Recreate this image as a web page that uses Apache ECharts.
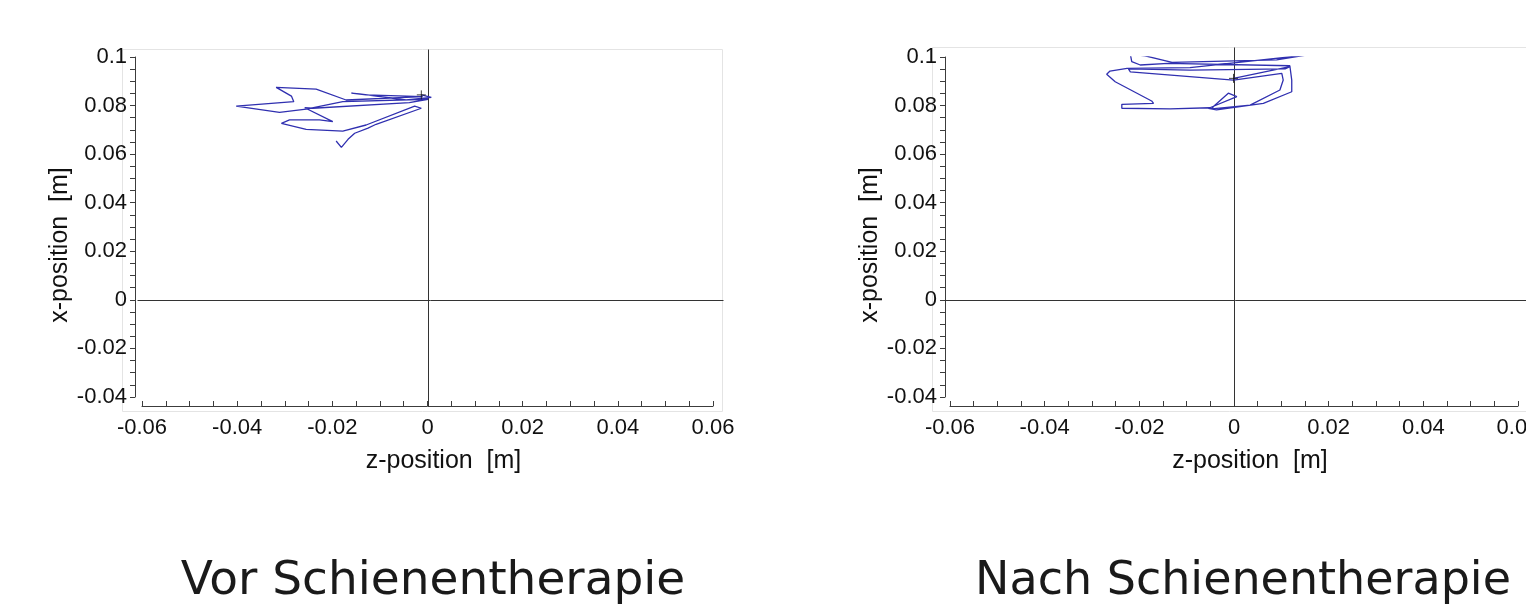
<!DOCTYPE html>
<html>
<head>
<meta charset="utf-8">
<script src="https://cdn.jsdelivr.net/npm/echarts@6/dist/echarts.min.js"></script>
<style>
html,body{margin:0;padding:0;background:#fff;}
#c{width:1526px;height:604px;}
</style>
</head>
<body>
<div id="c"></div>
<script>
// ---- data ----
var titles = ['Vor Schienentherapie', 'Nach Schienentherapie'];
var xAxisName = 'z-position  [m]';
var yAxisName = 'x-position  [m]';
var zTicks = [-0.06, -0.04, -0.02, 0, 0.02, 0.04, 0.06];
var xTicks = [-0.04, -0.02, 0, 0.02, 0.04, 0.06, 0.08, 0.1];

// Vor: z-position (horizontal) and x-position (vertical)
var vorZ = [-0.0013, 0.0008, -0.0045, -0.0143, -0.0160, -0.0129, -0.0010, -0.0171, -0.0234, -0.0318,
            -0.0286, -0.0281, -0.0402, -0.0398, -0.0311, -0.0255, -0.0178, 0.0001, -0.0038, -0.0241,
            -0.0258, -0.0199, -0.0227, -0.0290, -0.0307, -0.0255, -0.0178, -0.0129, -0.0027, -0.0013,
            -0.0108, -0.0125, -0.0153, -0.0167, -0.0181, -0.0192];
var vorX = [0.0844, 0.0834, 0.0823, 0.0848, 0.0851, 0.0844, 0.0837, 0.0823, 0.0868, 0.0875,
            0.0839, 0.0816, 0.0798, 0.0790, 0.0772, 0.0785, 0.0816, 0.0826, 0.0812, 0.0789,
            0.0791, 0.0734, 0.0741, 0.0741, 0.0727, 0.0702, 0.0695, 0.0720, 0.0798, 0.0789,
            0.0723, 0.0707, 0.0686, 0.0661, 0.0628, 0.0654];
// Nach
var nachZ = [-0.0001, 0.0118, 0.0108, -0.0093, -0.0223, -0.0219, -0.0001, 0.0101, 0.0104, 0.0097,
             0.0034, -0.0047, -0.0044, -0.0012, 0.0006, -0.0051, -0.0135, -0.0237, -0.0237, -0.0170,
             -0.0174, -0.0251, -0.0269, -0.0262, -0.0226, -0.0093, 0.0153, 0.0090, -0.0131, -0.0188,
             -0.0219, -0.0216, -0.0198, -0.0139, 0.0118, 0.0122, 0.0122, 0.0062, -0.0037, -0.0054];
var nachX = [0.0912, 0.0960, 0.0951, 0.0946, 0.0951, 0.0939, 0.0905, 0.0933, 0.0905, 0.0864,
             0.0802, 0.0786, 0.0795, 0.0851, 0.0837, 0.0791, 0.0786, 0.0789, 0.0805, 0.0809,
             0.0819, 0.0898, 0.0929, 0.0942, 0.0953, 0.0956, 0.1008, 0.0988, 0.0978, 0.1005,
             0.1011, 0.0981, 0.0967, 0.0974, 0.0964, 0.0905, 0.0857, 0.0809, 0.0782, 0.0789];
// cursor markers
var vorCursor = [-0.0013, 0.0844];
var nachCursor = [-0.0001, 0.0912];
// zero reference lines (extent in data units)
var vorZeroH = [[-0.0611, 0], [0.0620, 0]];
var vorZeroV = [[0, -0.0436], [0, 0.1033]];
var nachZeroH = [[-0.0612, 0], [0.0700, 0]];
var nachZeroV = [[0, -0.0436], [0, 0.1040]];

function zip(a, b) { return a.map(function (v, i) { return [v, b[i]]; }); }

var axisColor = '#3c3c3c';
var traceColor = '#3030b0';
var tickFont = 'Liberation Sans';
var fmt = function (v) { return String(+v.toFixed(2)); };

function makeX(idx) {
  return {
    type: 'value', gridIndex: idx, min: zTicks[0], max: zTicks[zTicks.length - 1], interval: 0.02,
    offset: 9,
    name: xAxisName, nameLocation: 'middle', nameGap: 43,
    nameTextStyle: { fontFamily: 'Liberation Sans', fontSize: 25, color: '#111', padding: [0, 0, 0, 32] },
    axisLine: { show: true, onZero: false, lineStyle: { color: axisColor, width: 1 } },
    axisTick: { show: true, inside: true, length: 5, lineStyle: { color: axisColor } },
    minorTick: { show: true, splitNumber: 4, length: 5, lineStyle: { color: axisColor } },
    axisLabel: { fontFamily: tickFont, fontSize: 22, color: '#111', margin: 11, formatter: fmt, hideOverlap: false },
    splitLine: { show: false }
  };
}
function makeY(idx, off) {
  return {
    type: 'value', gridIndex: idx, min: xTicks[0], max: xTicks[xTicks.length - 1], interval: 0.02,
    offset: off,
    name: yAxisName, nameLocation: 'middle', nameGap: 59,
    nameTextStyle: { fontFamily: 'Liberation Sans', fontSize: 25, color: '#111', padding: [0, 36, 0, 0] },
    axisLine: { show: true, onZero: false, lineStyle: { color: axisColor, width: 1 } },
    axisTick: { show: true, inside: false, length: 5, lineStyle: { color: axisColor } },
    minorTick: { show: true, splitNumber: 4, length: 5, lineStyle: { color: axisColor } },
    axisLabel: { fontFamily: tickFont, fontSize: 22, color: '#111', margin: 8, formatter: fmt },
    splitLine: { show: false }
  };
}
function trace(idx, z, x) {
  return {
    type: 'line', xAxisIndex: idx, yAxisIndex: idx, data: zip(z, x),
    showSymbol: false, z: 3, lineStyle: { color: traceColor, width: 1.3 }
  };
}
function cursor(idx, p) {
  return {
    type: 'scatter', xAxisIndex: idx, yAxisIndex: idx, data: [p], z: 4,
    symbol: 'path://M0,5L10,5M5,0L5,10', symbolSize: 9,
    itemStyle: { color: 'none', borderColor: '#111', borderWidth: 1 }
  };
}

var chart = echarts.init(document.getElementById('c'), null, { renderer: 'canvas' });
chart.setOption({
  animation: false,
  backgroundColor: '#fff',
  title: [
    { text: titles[0], left: 428, top: 553, textAlign: 'center',
      textStyle: { fontFamily: 'DejaVu Sans', fontSize: 47, fontWeight: 'normal', color: '#1a1a1a' } },
    { text: titles[1], left: 1238, top: 554, textAlign: 'center',
      textStyle: { fontFamily: 'DejaVu Sans', fontSize: 46, fontWeight: 'normal', color: '#1a1a1a' } }
  ],
  grid: [
    { left: 142, top: 57, width: 571, height: 340, containLabel: false, outerBoundsMode: 'none' },
    { left: 950, top: 57, width: 568, height: 340, containLabel: false, outerBoundsMode: 'none' }
  ],
  xAxis: [makeX(0), makeX(1)],
  yAxis: [makeY(0, 7), makeY(1, 5)],
  series: [
    trace(0, vorZ, vorX), trace(1, nachZ, nachX),
    cursor(0, vorCursor), cursor(1, nachCursor)
  ]
});

// zero reference lines and plot frame, positioned through the chart's own scales
function seg(gi, pts) {
  var a = chart.convertToPixel({ gridIndex: gi }, pts[0]);
  var b = chart.convertToPixel({ gridIndex: gi }, pts[1]);
  return { type: 'line', z: 1, silent: true,
    shape: { x1: Math.round(a[0]) + 0.5, y1: Math.round(a[1]) + 0.5, x2: Math.round(b[0]) + 0.5, y2: Math.round(b[1]) + 0.5 },
    style: { stroke: '#333', lineWidth: 1 } };
}
var frames = [
  { type: 'rect', shape: { x: 122.5, y: 49.5, width: 600, height: 362 }, z: -1,
    style: { fill: 'none', stroke: '#e4e4e4', lineWidth: 1 } },
  { type: 'rect', shape: { x: 932.5, y: 47.5, width: 620, height: 364 }, z: -1,
    style: { fill: 'none', stroke: '#e4e4e4', lineWidth: 1 } }
];
chart.setOption({
  graphic: frames.concat([
    seg(0, vorZeroH), seg(0, vorZeroV), seg(1, nachZeroH), seg(1, nachZeroV)
  ])
});
</script>
</body>
</html>
